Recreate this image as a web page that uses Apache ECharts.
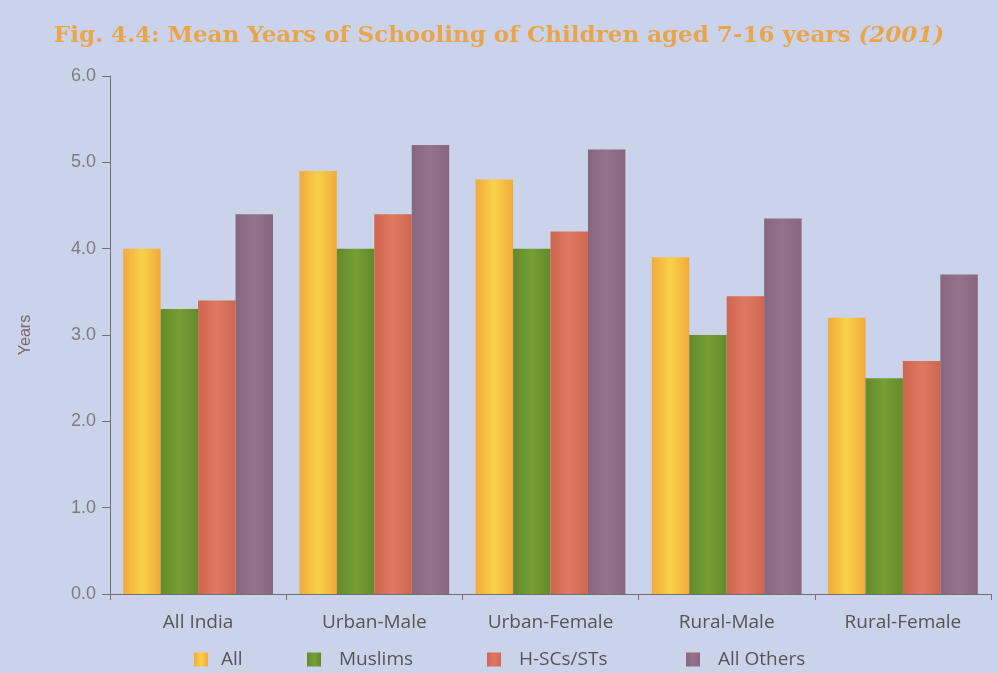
<!DOCTYPE html>
<html>
<head>
<meta charset="utf-8">
<script src="https://cdn.jsdelivr.net/npm/echarts@6/dist/echarts.min.js"></script>
<style>
  html, body { margin: 0; padding: 0; background: #cbd4ea; }
  #chart { width: 998px; height: 673px; }
</style>
</head>
<body>
<div id="chart"></div>
<script>
// Mean years of schooling, children aged 7-16 (2001)
const categories = ['All India', 'Urban-Male', 'Urban-Female', 'Rural-Male', 'Rural-Female'];
const seriesNames = ['All', 'Muslims', 'H-SCs/STs', 'All Others'];
const allValues     = [4.0, 4.9, 4.8, 3.9, 3.2];
const muslimValues  = [3.3, 4.0, 4.0, 3.0, 2.5];
const hscstValues   = [3.4, 4.4, 4.2, 3.45, 2.7];
const othersValues  = [4.4, 5.2, 5.15, 4.35, 3.7];
const yTicks = [0, 1, 2, 3, 4, 5, 6];

const palette = [
  ['#f2a93a', '#f8d24c'],
  ['#64892a', '#74a036'],
  ['#cf654f', '#de7a62'],
  ['#86677e', '#957489']
];

function barColor(pair) {
  return new echarts.graphic.LinearGradient(0, 0, 1, 0, [
    { offset: 0, color: pair[0] },
    { offset: 0.5, color: pair[1] },
    { offset: 1, color: pair[0] }
  ]);
}

const valueSets = [allValues, muslimValues, hscstValues, othersValues];

// one legend block per series so each key sits at its own spot
const legendLefts = [189, 302, 482, 681];
const legendPads = [8, 13, 13, 13];
const legends = seriesNames.map((name, i) => ({
  data: [name],
  left: legendLefts[i],
  top: 645,
  itemWidth: 14,
  itemHeight: 14,
  icon: 'rect',
  textStyle: {
    fontFamily: 'Open Sans',
    fontSize: 19,
    color: '#555',
    padding: [0, 0, 0, legendPads[i]]
  }
}));

const chart = echarts.init(document.getElementById('chart'), null, { renderer: 'canvas' });

chart.setOption({
  backgroundColor: '#cad3ea',
  animation: false,
  title: {
    text: '{a|Fig. 4.4: Mean Years of Schooling of Children aged 7-16 years }{b|(2001)}',
    left: 'center',
    top: 20,
    textStyle: {
      rich: {
        a: { fontFamily: 'DejaVu Serif', fontSize: 23, color: '#eaa54a' },
        b: { fontFamily: 'DejaVu Serif', fontSize: 23, fontStyle: 'italic', color: '#eaa54a' }
      }
    }
  },
  legend: legends,
  grid: { left: 110, right: 7, top: 76, bottom: 79 },
  xAxis: {
    type: 'category',
    data: categories,
    axisLine: { lineStyle: { color: '#707070', width: 1 } },
    axisTick: { show: true, length: 6, lineStyle: { color: '#707070' } },
    axisLabel: {
      fontFamily: 'Open Sans',
      fontSize: 19,
      color: '#555',
      margin: 19
    }
  },
  yAxis: {
    type: 'value',
    min: yTicks[0],
    max: yTicks[yTicks.length - 1],
    interval: 1,
    name: 'Years',
    nameLocation: 'middle',
    nameGap: 76,
    nameRotate: 90,
    nameTextStyle: { fontFamily: 'Liberation Sans', fontSize: 16, color: '#7a6a6a' },
    axisLine: { show: true, lineStyle: { color: '#707070', width: 1 } },
    axisTick: { show: true, length: 8, lineStyle: { color: '#707070' } },
    splitLine: { show: false },
    axisLabel: {
      fontFamily: 'Liberation Sans',
      fontSize: 18,
      color: '#7d7d7d',
      margin: 14,
      formatter: v => v.toFixed(1)
    }
  },
  series: seriesNames.map((name, i) => ({
    name: name,
    type: 'bar',
    data: valueSets[i],
    barGap: '0%',
    barCategoryGap: '15%',
    itemStyle: { color: barColor(palette[i]) }
  }))
});
</script>
</body>
</html>
